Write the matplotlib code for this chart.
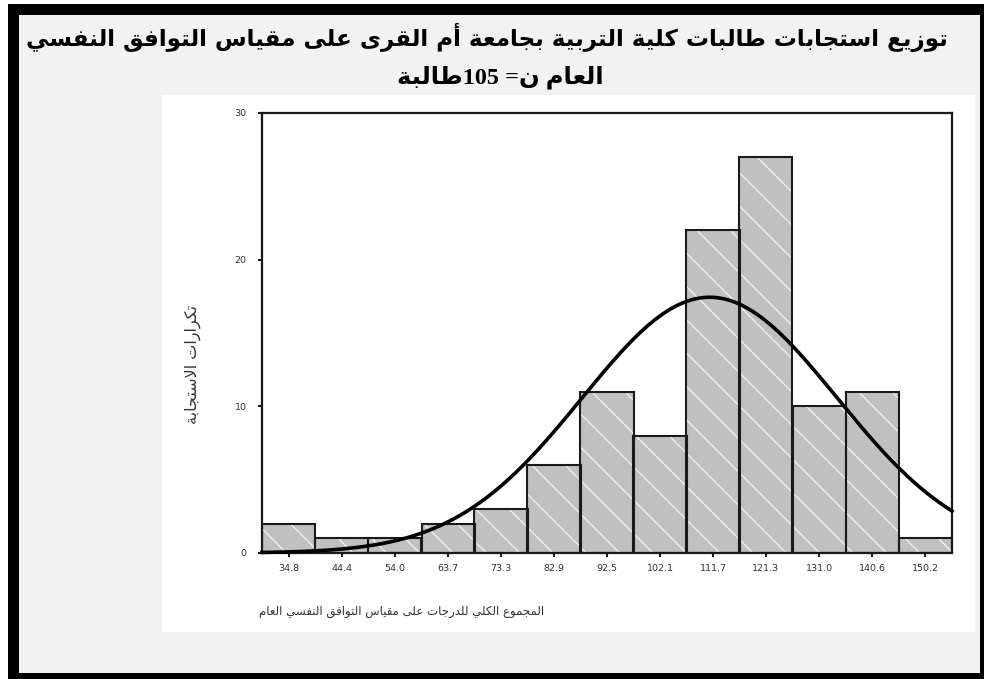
import numpy as np
import matplotlib
matplotlib.use('Agg')
import matplotlib.pyplot as plt
from matplotlib.patches import Rectangle

# histogram data (bin centres and counts)
bin_centers = [34.8, 44.4, 54.0, 63.7, 73.3, 82.9, 92.5, 102.1, 111.7, 121.3, 131.0, 140.6, 150.2]
counts = [2, 1, 1, 2, 3, 6, 11, 8, 22, 27, 10, 11, 1]
tick_labels = ['34.8', '44.4', '54.0', '63.7', '73.3', '82.9', '92.5',
               '102.1', '111.7', '121.3', '131.0', '140.6', '150.2']
n_total = 105
curve_mean = 111.1   # fitted normal curve
curve_sd = 23.1

title_1 = 'توزيع استجابات طالبات كلية التربية بجامعة أم القرى على مقياس التوافق النفسي'
title_2 = 'العام ن= 105طالبة'
x_title = 'المجموع الكلي للدرجات على مقياس التوافق النفسي العام'
y_title = 'تكرارات الاستجابة'

# presentation forms: (first code point, number of forms)
FORMS = {
    'ا': (0xFE8D, 2), 'أ': (0xFE83, 2), 'ب': (0xFE8F, 4), 'ة': (0xFE93, 2),
    'ت': (0xFE95, 4), 'ج': (0xFE9D, 4), 'د': (0xFEA9, 2), 'ر': (0xFEAD, 2),
    'ز': (0xFEAF, 2), 'س': (0xFEB1, 4), 'ط': (0xFEC1, 4), 'ع': (0xFEC9, 4),
    'ف': (0xFED1, 4), 'ق': (0xFED5, 4), 'ك': (0xFED9, 4), 'ل': (0xFEDD, 4),
    'م': (0xFEE1, 4), 'ن': (0xFEE5, 4), 'ه': (0xFEE9, 4), 'و': (0xFEED, 2),
    'ى': (0xFEEF, 2), 'ي': (0xFEF1, 4),
}
LAM_ALEF = {'ا': 0xFEFB, 'أ': 0xFEF7}


def shape(text):
    """join arabic letters and put them in visual (left to right) order"""
    items = []
    i = 0
    while i < len(text):
        c = text[i]
        if c == 'ل' and i + 1 < len(text) and text[i + 1] in LAM_ALEF:
            items.append(('LA', text[i + 1]))
            i += 2
        else:
            items.append(c)
            i += 1

    def is_ar(it):
        return isinstance(it, tuple) or it in FORMS

    def joins_left(it):
        return (not isinstance(it, tuple)) and it in FORMS and FORMS[it][1] == 4

    out = []
    for k, it in enumerate(items):
        prev = items[k - 1] if k > 0 else None
        nxt = items[k + 1] if k + 1 < len(items) else None
        jp = prev is not None and joins_left(prev)
        if isinstance(it, tuple):
            out.append(chr(LAM_ALEF[it[1]] + (1 if jp else 0)))
            continue
        if it not in FORMS:
            out.append(it)
            continue
        base, n = FORMS[it]
        jn = n == 4 and nxt is not None and is_ar(nxt)
        if n == 2:
            out.append(chr(base + (1 if jp else 0)))
        elif jp and jn:
            out.append(chr(base + 3))
        elif jp:
            out.append(chr(base + 1))
        elif jn:
            out.append(chr(base + 2))
        else:
            out.append(chr(base))
    vis = ''.join(out)[::-1]
    # digits keep left to right order
    res = ''
    run = ''
    for c in vis:
        if c.isdigit():
            run += c
        else:
            res += run[::-1] + c
            run = ''
    return res + run[::-1]


W, H = 984, 679
fig = plt.figure(figsize=(W / 100, H / 100), dpi=100)
fig.patch.set_facecolor('white')


def px_rect(x0, y0, x1, y1, color):
    fig.patches.append(Rectangle((x0 / W, 1 - y1 / H), (x1 - x0) / W, (y1 - y0) / H,
                                 transform=fig.transFigure, facecolor=color,
                                 edgecolor='none', zorder=-10))


# black frame, grey page, white chart panel
px_rect(8, 4, 984, 679, 'black')
px_rect(19, 15, 980, 673, '#f2f2f2')
px_rect(162, 95, 975, 632, 'white')

fig.text(487 / W, 1 - 37 / H, shape(title_1), ha='center', va='center',
         fontsize=16.6, fontweight='bold', family=['DejaVu Sans'])
fig.text(500 / W, 1 - 77 / H, shape(title_2), ha='center', va='center',
         fontsize=17.5, fontweight='bold', family=['Liberation Serif', 'DejaVu Sans'])

ax = fig.add_axes([262 / W, 1 - 553 / H, 690 / W, 440 / H])
ax.set_facecolor('white')

width = (bin_centers[-1] - bin_centers[0]) / (len(bin_centers) - 1)
plt.rcParams['hatch.linewidth'] = 0.9
ax.bar(bin_centers, counts, width=width, color='#c0c0c0', edgecolor='#f4f4f4',
       linewidth=0, hatch='\\', zorder=2)
ax.bar(bin_centers, counts, width=width, color='none', edgecolor='#1a1a1a',
       linewidth=1.5, zorder=3)

xs = np.linspace(bin_centers[0] - width / 2, bin_centers[-1] + width / 2, 300)
ys = n_total * width / (curve_sd * np.sqrt(2 * np.pi)) * np.exp(-0.5 * ((xs - curve_mean) / curve_sd) ** 2)
ax.plot(xs, ys, color='black', linewidth=2.6, zorder=4, clip_on=False)

ax.set_xlim(bin_centers[0] - width / 2, bin_centers[-1] + width / 2)
ax.set_ylim(0, 30)
ax.set_xticks(bin_centers)
ax.set_xticklabels(tick_labels)
ax.set_yticks([0, 10, 20, 30])
ax.tick_params(axis='both', direction='out', length=3, width=1.5, color='#1a1a1a',
               labelsize=6.8, labelcolor='#333333')
ax.tick_params(axis='x', pad=5)
ax.tick_params(axis='y', pad=8)
for s in ax.spines.values():
    s.set_linewidth(1.6)
    s.set_color('#1a1a1a')

fig.text(402 / W, 1 - 612 / H, shape(x_title), ha='center', va='center',
         fontsize=8.5, color='#333333')
fig.text(193 / W, 1 - 365 / H, shape(y_title), ha='center', va='center',
         fontsize=11.5, color='#333333', rotation=90)

fig.savefig('out.png', dpi=100)
